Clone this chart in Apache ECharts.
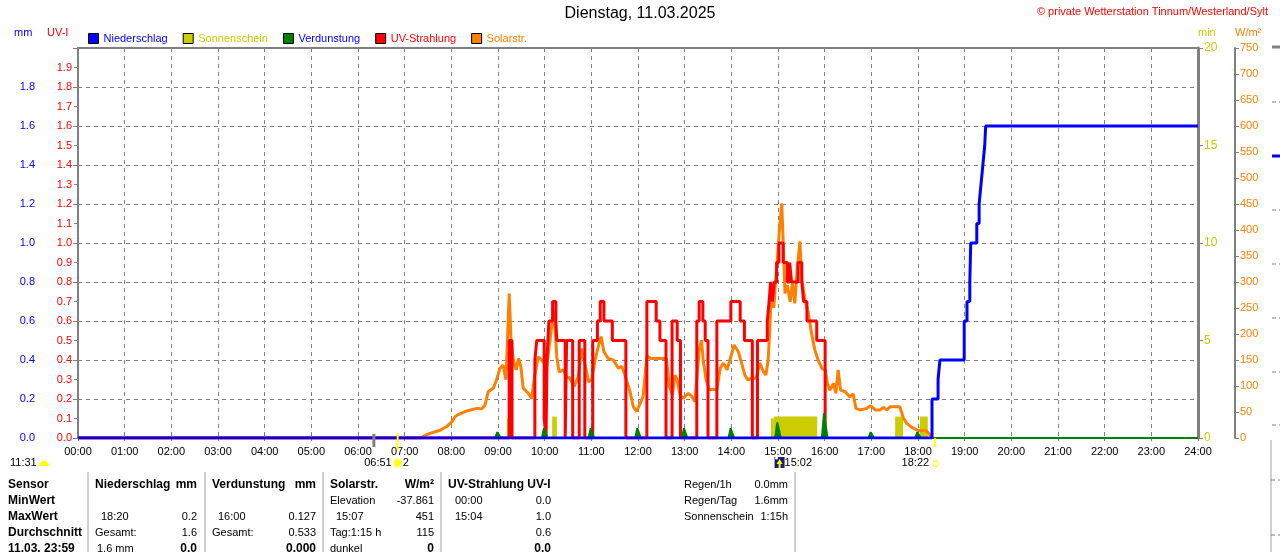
<!DOCTYPE html>
<html>
<head>
<meta charset="utf-8">
<title>Dienstag, 11.03.2025</title>
<script src="https://cdn.jsdelivr.net/npm/echarts@6/dist/echarts.min.js"></script>
<style>
html, body { margin: 0; padding: 0; background: #fff; }
#chart { width: 1280px; height: 552px; }
</style>
</head>
<body>
<div id="chart"></div>
<script>
// Tageswerte 11.03.2025 - Zeiten in Stunden
var hourLabels = ['00:00','01:00','02:00','03:00','04:00','05:00','06:00','07:00','08:00','09:00','10:00','11:00','12:00',
	'13:00','14:00','15:00','16:00','17:00','18:00','19:00','20:00','21:00','22:00','23:00','24:00'];

// Niederschlag (Summe, mm)
var rainTimes = [0, 18.30, 18.43, 18.47, 18.99, 19.05, 19.11, 19.13, 19.26, 19.31, 19.35, 19.39, 19.43, 19.45, 24];
var rainSum   = [0, 0.2, 0.3, 0.4, 0.6, 0.7, 0.8, 1.0, 1.1, 1.2, 1.3, 1.4, 1.5, 1.6, 1.6];

// Sonnenschein (min je Intervall)
var sunStart = [9.19, 10.16, 14.85, 14.91, 17.51, 18.04];
var sunEnd   = [9.24, 10.26, 14.91, 15.84, 17.68, 18.21];
var sunMin   = [1.0, 1.1, 1.0, 1.1, 1.1, 1.1];

// Verdunstung (mm je Stunde)
var evapHours = [9, 10, 11, 12, 13, 14, 15, 16, 17, 18];
var evapMm    = [0.03, 0.05, 0.05, 0.05, 0.05, 0.05, 0.08, 0.127, 0.03, 0.03];

// UV-Strahlung (UV-I)
var uvTimes = [0, 9.24, 9.30, 9.79, 9.83, 9.99, 10.03, 10.05, 10.09, 10.17, 10.24, 10.26, 10.44, 10.47, 10.60, 10.74, 10.86,
	11.03, 11.13, 11.19, 11.27, 11.45, 11.74, 12.19, 12.39, 12.47, 12.60, 12.73, 12.84, 12.91,
	13.26, 13.31, 13.39, 13.44, 13.50, 13.69, 13.99, 14.19, 14.28, 14.45, 14.56, 14.77, 14.81, 14.84, 14.88, 14.92, 14.97,
	15.02, 15.11, 15.20, 15.25, 15.29, 15.43, 15.51, 15.55, 15.62, 15.83, 16.01];
var uvIndex = [0, 0.5, 0, 0.4, 0.5, 0.1, 0, 0.4, 0.6, 0.7, 0.6, 0.5, 0, 0.5, 0, 0.5, 0,
	0.5, 0.6, 0.7, 0.6, 0.5, 0, 0.7, 0.6, 0.5, 0, 0.6, 0.5, 0,
	0.6, 0.7, 0.6, 0.5, 0, 0.6, 0.7, 0.6, 0.5, 0, 0.5, 0.6, 0.7, 0.8, 0.7, 0.8, 0.9,
	1.0, 0.9, 0.8, 0.9, 0.8, 0.9, 0.8, 0.7, 0.6, 0.5, 0];

// Solarstrahlung (W/m²)
var solarTimes = [0, 7.35, 7.40, 7.54, 7.76, 7.90, 8.01, 8.08, 8.15, 8.33, 8.54, 8.65, 8.72, 8.79, 8.90, 8.97, 9.04, 9.11, 9.17,
	9.20, 9.24, 9.28, 9.33, 9.39, 9.44, 9.49, 9.54, 9.65, 9.72, 9.79, 9.86, 9.97, 10.04, 10.11, 10.19, 10.22, 10.26, 10.31,
	10.40, 10.47, 10.54, 10.63, 10.72, 10.79, 10.86, 10.94, 11.01, 11.08, 11.15, 11.21, 11.27, 11.36, 11.47, 11.58, 11.65,
	11.72, 11.83, 11.90, 11.97, 12.04, 12.11, 12.19, 12.27, 12.44, 12.61, 12.67, 12.74, 12.79, 12.84, 12.90, 12.97, 13.08,
	13.15, 13.22, 13.31, 13.36, 13.40, 13.46, 13.53, 13.61, 13.69, 13.76, 13.83, 13.91, 13.97, 14.06, 14.15, 14.22, 14.29,
	14.35, 14.44, 14.53, 14.61, 14.69, 14.74, 14.79, 14.83, 14.86, 14.91, 14.94, 14.99, 15.03, 15.08, 15.11, 15.15, 15.20,
	15.26, 15.31, 15.36, 15.41, 15.47, 15.51, 15.58, 15.65, 15.72, 15.79, 15.86, 15.94, 16.01, 16.06, 16.11, 16.19, 16.24,
	16.29, 16.34, 16.44, 16.54, 16.61, 16.67, 16.76, 16.90, 16.99, 17.08, 17.19, 17.26, 17.33, 17.40, 17.61, 17.69, 17.76,
	17.86, 18.01, 18.18, 18.26, 18.29];
var solarWm2 = [0, 0, 3, 9, 15, 22, 31, 41, 45, 52, 57, 56, 63, 89, 96, 112, 134, 140, 112,
	179, 278, 188, 150, 131, 153, 137, 96, 86, 76, 121, 156, 147, 134, 185, 243, 214, 156, 127,
	131, 118, 115, 99, 118, 172, 144, 108, 112, 150, 176, 195, 166, 153, 150, 134, 138,
	121, 89, 60, 51, 65, 80, 158, 153, 153, 153, 99, 83, 121, 112, 83, 76, 86,
	80, 70, 169, 188, 147, 112, 92, 94, 92, 134, 144, 131, 150, 179, 166, 144, 121,
	112, 115, 115, 144, 127, 121, 150, 220, 300, 250, 291, 349, 400, 451, 381, 278, 294,
	262, 297, 259, 323, 378, 304, 265, 240, 201, 169, 150, 134, 131, 105, 92, 105, 86,
	131, 92, 89, 79, 85, 57, 54, 57, 62, 54, 54, 59, 54, 60, 60, 38, 28,
	21, 14, 14, 6, 0];

// Sonne / Mond
var moonRise = '11:31';
var dawnTime = 6.34;
var sunriseTime = 6 + 51 / 60;
var noonTime = 15 + 2 / 60;
var sunsetTime = 18 + 22 / 60;

// Tabelle unten
var tableRows = [
	[[8, 'l', 'Sensor', 1], [95, 'l', 'Niederschlag', 1], [197, 'r', 'mm', 1], [212, 'l', 'Verdunstung', 1], [316, 'r', 'mm', 1],
		[330, 'l', 'Solarstr.', 1], [434, 'r', 'W/m²', 1], [448, 'l', 'UV-Strahlung UV-I', 1]],
	[[8, 'l', 'MinWert', 1], [330, 'l', 'Elevation', 0], [434, 'r', '-37.861', 0], [455, 'l', '00:00', 0], [551, 'r', '0.0', 0]],
	[[8, 'l', 'MaxWert', 1], [101, 'l', '18:20', 0], [197, 'r', '0.2', 0], [218, 'l', '16:00', 0], [316, 'r', '0.127', 0],
		[336, 'l', '15:07', 0], [434, 'r', '451', 0], [455, 'l', '15:04', 0], [551, 'r', '1.0', 0]],
	[[8, 'l', 'Durchschnitt', 1], [95, 'l', 'Gesamt:', 0], [197, 'r', '1.6', 0], [212, 'l', 'Gesamt:', 0], [316, 'r', '0.533', 0],
		[330, 'l', 'Tag:1:15 h', 0], [434, 'r', '115', 0], [551, 'r', '0.6', 0]],
	[[8, 'l', '11.03. 23:59', 1], [97, 'l', '1.6 mm', 0], [197, 'r', '0.0', 1], [316, 'r', '0.000', 1], [330, 'l', 'dunkel', 0],
		[434, 'r', '0', 1], [551, 'r', '0.0', 1]]
];
var infoLabels = ['Regen/1h', 'Regen/Tag', 'Sonnenschein'];
var infoValues = ['0.0mm', '1.6mm', '1:15h'];

var FONT = "'Liberation Sans', Arial, sans-serif";
var GRAY = '#808080';

function pairs(t, v) {
	var out = [];
	for (var i = 0; i < t.length; i++) out.push([t[i], v[i]]);
	return out;
}

function fmt1(v) {
	if (v > 1.999) return '';
	return v.toFixed(1);
}

function txt(x, y, s, color, size, bold, align) {
	return {
		type: 'text', z: 50, silent: true,
		style: {
			x: x, y: y, text: s, fill: color,
			font: (bold ? 'bold ' : '') + size + 'px ' + FONT,
			textAlign: align || 'left', align: align || 'left',
			textVerticalAlign: 'middle', verticalAlign: 'middle'
		}
	};
}

function vline(x, y1, y2, color, w, dash) {
	return {
		type: 'line', z: 50, silent: true,
		shape: {x1: x, y1: y1, x2: x, y2: y2},
		style: {stroke: color, lineWidth: w, lineDash: dash || null}
	};
}

function hline(x1, x2, y, color, w, dash) {
	return {
		type: 'line', z: 50, silent: true,
		shape: {x1: x1, y1: y, x2: x2, y2: y},
		style: {stroke: color, lineWidth: w, lineDash: dash || null}
	};
}

// Verdunstung als schmale Spitzen auf der Nulllinie
var evapLine = [[0, 0]];
for (var i = 0; i < evapHours.length; i++) {
	var h = evapHours[i];
	evapLine.push([h - 0.06, 0], [h - 0.015, evapMm[i]], [h + 0.015, evapMm[i]], [h + 0.06, 0]);
}
evapLine.push([24, 0]);

var sunData = [];
for (var j = 0; j < sunStart.length; j++) sunData.push([sunStart[j], sunEnd[j], sunMin[j]]);

var chart = echarts.init(document.getElementById('chart'));

var option = {
	animation: false,
	textStyle: {fontFamily: FONT},
	title: {
		text: 'Dienstag, 11.03.2025', left: 'center', top: 6, padding: 0,
		textStyle: {fontSize: 16, fontWeight: 'normal', color: '#000', fontFamily: FONT}
	},
	legend: {
		left: 88, top: 33, padding: 0, itemWidth: 10, itemHeight: 10, itemGap: 15, icon: 'rect',
		itemStyle: {borderColor: '#000', borderWidth: 1},
		textStyle: {fontSize: 11, fontFamily: FONT},
		data: [
			{name: 'Niederschlag', textStyle: {color: '#0000ff'}},
			{name: 'Sonnenschein', textStyle: {color: '#cccc00'}},
			{name: 'Verdunstung', textStyle: {color: '#0000ff'}},
			{name: 'UV-Strahlung', textStyle: {color: '#ff0000'}},
			{name: 'Solarstr.', textStyle: {color: '#ff8000'}}
		]
	},
	grid: {left: 78, right: 82, top: 48, bottom: 114, show: true, borderColor: GRAY, borderWidth: 2},
	xAxis: {
		type: 'value', min: 0, max: 24, interval: 1,
		axisLine: {lineStyle: {color: GRAY, width: 2}},
		axisTick: {show: true, length: 3, lineStyle: {color: GRAY}},
		axisLabel: {color: '#000', fontSize: 11, margin: 8, formatter: function (v) { return hourLabels[v]; }},
		splitLine: {show: true, lineStyle: {color: GRAY, type: [4, 4], width: 1}}
	},
	yAxis: [
		{
			type: 'value', position: 'left', offset: 37, min: 0, max: 2, interval: 0.2,
			axisLine: {show: true, lineStyle: {color: GRAY, width: 1}},
			axisTick: {show: true, length: 5, lineStyle: {color: GRAY}},
			axisLabel: {color: '#0000ff', fontSize: 11, margin: 6, formatter: fmt1},
			splitLine: {show: true, lineStyle: {color: GRAY, type: [4, 4], width: 1}}
		},
		{
			type: 'value', position: 'left', offset: 0, min: 0, max: 2, interval: 0.1,
			axisLine: {show: true, lineStyle: {color: GRAY, width: 2}},
			axisTick: {show: true, length: 4, lineStyle: {color: GRAY}},
			axisLabel: {color: '#ff0000', fontSize: 11, margin: 6, formatter: fmt1},
			splitLine: {show: false}
		},
		{
			type: 'value', position: 'right', offset: 0, min: 0, max: 20, interval: 5,
			axisLine: {show: true, lineStyle: {color: GRAY, width: 3}},
			axisTick: {show: true, length: 5, lineStyle: {color: GRAY}},
			axisLabel: {color: '#cccc00', fontSize: 12, margin: 6},
			splitLine: {show: false}
		},
		{
			type: 'value', position: 'right', offset: 37, min: 0, max: 750, interval: 50,
			axisLine: {show: true, lineStyle: {color: GRAY, width: 2}},
			axisTick: {show: true, length: 4, lineStyle: {color: GRAY}},
			axisLabel: {color: '#ff8000', fontSize: 11, margin: 5},
			splitLine: {show: false}
		}
	],
	series: [
		{
			name: 'Sonnenschein', type: 'custom', yAxisIndex: 2, z: 3,
			itemStyle: {color: '#cccc00'},
			encode: {x: [0, 1], y: 2},
			data: sunData,
			renderItem: function (params, api) {
				var p0 = api.coord([api.value(0), api.value(2)]);
				var p1 = api.coord([api.value(1), 0]);
				return {
					type: 'rect',
					shape: {x: p0[0], y: p0[1], width: p1[0] - p0[0], height: p1[1] - p0[1]},
					style: {fill: '#cccc00'}
				};
			}
		},
		{
			name: 'Solarstr.', type: 'line', yAxisIndex: 3, z: 4, symbol: 'none',
			itemStyle: {color: '#ff8000'},
			lineStyle: {color: '#ff8000', width: 3},
			data: pairs(solarTimes, solarWm2)
		},
		{
			name: 'UV-Strahlung', type: 'line', yAxisIndex: 1, z: 5, symbol: 'none', step: 'end',
			itemStyle: {color: '#ff0000'},
			lineStyle: {color: '#ff0000', width: 3},
			data: pairs(uvTimes, uvIndex)
		},
		{
			name: 'Verdunstung', type: 'line', yAxisIndex: 0, z: 6, symbol: 'none',
			itemStyle: {color: '#008000'},
			lineStyle: {color: '#008000', width: 2},
			areaStyle: {color: '#008000', opacity: 1},
			data: evapLine
		},
		{
			name: 'Niederschlag', type: 'line', yAxisIndex: 0, z: 7, symbol: 'none', step: 'end',
			itemStyle: {color: '#0000ff'},
			lineStyle: {color: '#0000ff', width: 3},
			data: pairs(rainTimes, rainSum)
		}
	]
};

chart.setOption(option);

function buildGraphic() {
	var g = [];
	// Achsennamen und Copyright
	g.push(txt(14, 33, 'mm', '#0000ff', 11));
	g.push(txt(47, 33, 'UV-I', '#ff0000', 11));
	g.push(txt(1198, 33, 'min', '#cccc00', 11));
	g.push(txt(1235, 33, 'W/m²', '#ff8000', 11));
	g.push(txt(1268, 12, '© private Wetterstation Tinnum/Westerland/Sylt', '#ff0000', 11, 0, 'right'));

	// Sonne / Mond unter der Zeitachse
	var xDawn = chart.convertToPixel({gridIndex: 0}, [dawnTime, 0])[0];
	var xRise = chart.convertToPixel({gridIndex: 0}, [sunriseTime, 0])[0];
	var xNoon = chart.convertToPixel({gridIndex: 0}, [noonTime, 0])[0];
	var xSet = chart.convertToPixel({gridIndex: 0}, [sunsetTime, 0])[0];

	g.push(txt(10, 463, moonRise, '#000', 11));
	g.push({type: 'sector', z: 50, silent: true, shape: {cx: 44, cy: 466, r: 5, r0: 0, startAngle: Math.PI, endAngle: Math.PI * 2}, style: {fill: '#ffff00'}});

	g.push(vline(xDawn, 434, 447, GRAY, 3));
	g.push(vline(xRise, 433, 450, '#ffff00', 2));
	g.push(txt(xRise - 6, 463, '06:51', '#000', 11, 0, 'right'));
	g.push({type: 'circle', z: 50, silent: true, shape: {cx: xRise, cy: 463, r: 4}, style: {fill: '#ffff00', stroke: '#ffff80', lineWidth: 2}});
	g.push(txt(xRise + 5, 463, '2', '#000', 11));

	g.push({type: 'rect', z: 50, silent: true, shape: {x: xNoon - 5, y: 457, width: 10, height: 11}, style: {fill: '#1a1a80'}});
	g.push({type: 'polygon', z: 51, silent: true, shape: {points: [[xNoon, 459], [xNoon - 3, 464], [xNoon + 3, 464]]}, style: {fill: '#ffff00'}});
	g.push(vline(xNoon, 463, 468, '#ffff00', 2));
	g.push({type: 'circle', z: 51, silent: true, shape: {cx: xNoon - 3, cy: 458, r: 1.5}, style: {fill: '#fff'}});
	g.push(txt(xNoon + 5, 463, '15:02', '#000', 11));

	g.push(vline(xSet, 438, 447, '#ffff00', 2));
	g.push(txt(xSet - 6, 463, '18:22', '#000', 11, 0, 'right'));
	g.push({type: 'rect', z: 50, silent: true, shape: {x: xSet - 2, y: 461, width: 5, height: 5}, style: {fill: 'none', stroke: '#ffff00', lineWidth: 1}});

	// Tabelle
	var rowY = [485, 501, 517, 533, 549];
	for (var r = 0; r < tableRows.length; r++) {
		for (var c = 0; c < tableRows[r].length; c++) {
			var cell = tableRows[r][c];
			g.push(txt(cell[0], rowY[r], cell[2], '#000', cell[3] ? 12 : 11, cell[3], cell[1] == 'r' ? 'right' : 'left'));
		}
	}
	for (var k = 0; k < infoLabels.length; k++) {
		g.push(txt(684, rowY[k], infoLabels[k], '#000', 11));
		g.push(txt(788, rowY[k], infoValues[k], '#000', 11, 0, 'right'));
	}
	var seps = [88, 205, 323, 441, 795];
	for (var s = 0; s < seps.length; s++) g.push(vline(seps[s], 472, 552, '#a0a0a0', 1));

	// Rand der naechsten Grafik rechts
	g.push(hline(1272, 1280, 47, GRAY, 3));
	var dashY = [102, 210, 264, 318, 372, 425];
	for (var d = 0; d < dashY.length; d++) g.push(hline(1272, 1280, dashY[d], GRAY, 1, [4, 3]));
	g.push(hline(1272, 1280, 156, '#0000ff', 3));
	g.push(vline(1271, 440, 552, '#a0a0a0', 1));
	g.push(hline(1271, 1280, 480, GRAY, 1, [4, 3]));
	g.push(hline(1271, 1280, 535, GRAY, 1, [4, 3]));
	return g;
}

chart.setOption({graphic: buildGraphic()});
</script>
</body>
</html>
